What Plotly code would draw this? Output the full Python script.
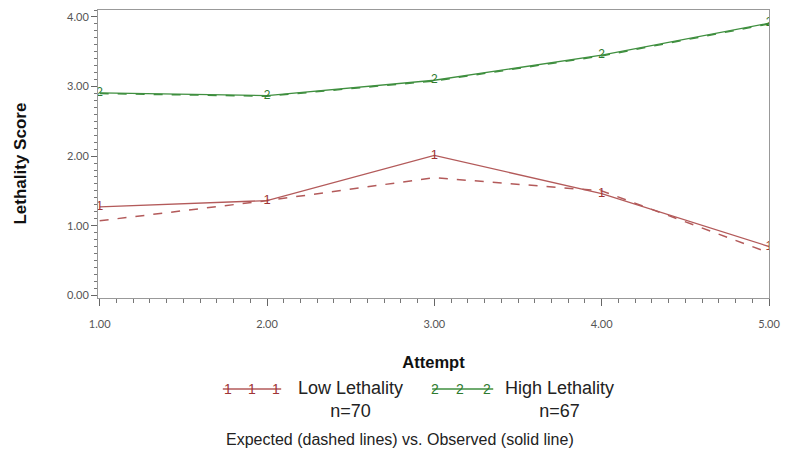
import plotly.graph_objects as go

attempts = [1, 2, 3, 4, 5]
low_observed = [1.27, 1.36, 2.01, 1.46, 0.70]
low_expected = [1.07, 1.36, 1.69, 1.50, 0.61]
high_observed = [2.91, 2.87, 3.09, 3.45, 3.91]
high_expected = [2.90, 2.86, 3.08, 3.44, 3.90]
xtick_vals = [1, 2, 3, 4, 5]
xtick_text = ["1.00", "2.00", "3.00", "4.00", "5.00"]
ytick_vals = [0, 1, 2, 3, 4]
ytick_text = ["0.00", "1.00", "2.00", "3.00", "4.00"]

RED = "#b35a5a"
RED_MARK = "#a03535"
GREEN = "#3f8f3f"
GREEN_MARK = "#2f7a2f"

fig = go.Figure()
fig.add_trace(go.Scatter(x=attempts, y=low_expected, mode="lines",
                         line=dict(color=RED, width=1.5, dash="dash"), showlegend=False))
fig.add_trace(go.Scatter(x=attempts, y=low_observed, mode="lines+text", text=["1"] * 5,
                         textposition="middle center",
                         textfont=dict(color=RED_MARK, size=13, family="Liberation Sans"),
                         line=dict(color=RED, width=1.3), showlegend=False))
fig.add_trace(go.Scatter(x=attempts, y=high_expected, mode="lines",
                         line=dict(color=GREEN, width=1.5, dash="dash"), showlegend=False))
fig.add_trace(go.Scatter(x=attempts, y=high_observed, mode="lines+text", text=["2"] * 5,
                         textposition="middle center",
                         textfont=dict(color=GREEN_MARK, size=12, family="Liberation Sans"),
                         line=dict(color=GREEN, width=1.3), showlegend=False))

LEG_Y = -0.316
LABEL_Y = -0.354

def legend_item(x0, x1, glyph_xs, color, mcolor, glyph, label, tx):
    fig.add_shape(type="line", xref="paper", yref="paper", x0=x0, x1=x1, y0=LEG_Y, y1=LEG_Y,
                  line=dict(color=color, width=1.3))
    for xx in glyph_xs:
        fig.add_annotation(xref="paper", yref="paper", x=xx, y=LEG_Y, text=glyph, showarrow=False,
                           xanchor="center", yanchor="middle",
                           font=dict(color=mcolor, size=14, family="Liberation Sans"))
    fig.add_annotation(xref="paper", yref="paper", x=tx, y=LABEL_Y, text=label, showarrow=False,
                       xanchor="center", yanchor="middle", align="center",
                       font=dict(color="#222", size=18, family="Liberation Sans"))

legend_item(0.186, 0.273, [0.194, 0.229, 0.265], RED, RED_MARK, "1", "Low Lethality<br>n=70", 0.377)
legend_item(0.498, 0.589, [0.502, 0.540, 0.580], GREEN, GREEN_MARK, "2", "High Lethality<br>n=67", 0.688)

fig.add_annotation(xref="paper", yref="paper", x=0.45, y=-0.493, xanchor="center", yanchor="middle",
                   text="Expected (dashed lines) vs. Observed (solid line)", showarrow=False,
                   font=dict(color="#222", size=16, family="Liberation Sans"))

fig.add_annotation(xref="paper", yref="paper", x=-0.1162, y=0.467, xanchor="center", yanchor="middle",
                   text="<b>Lethality Score</b>", textangle=-90, showarrow=False,
                   font=dict(color="#111", size=17, family="Liberation Sans"))

fig.update_layout(
    width=785, height=458,
    margin=dict(l=98, r=16, t=10, b=160),
    plot_bgcolor="white", paper_bgcolor="white",
    font=dict(family="Liberation Sans", color="#333"),
    xaxis=dict(range=[0.99, 5.0], tickvals=xtick_vals, ticktext=xtick_text, automargin=False,
               ticks="outside", ticklen=7, tickcolor="#666", ticklabelstandoff=9,
               ticklabeloverflow="allow",
               minor=dict(dtick=0.1, ticks="outside", ticklen=4, tickcolor="#777"),
               showline=True, linecolor="#999", mirror=True, showgrid=False, zeroline=False,
               tickfont=dict(family="Lato", size=11, color="#555"),
               title=dict(text="<b>Attempt</b>", font=dict(size=16.5, color="#111"), standoff=27)),
    yaxis=dict(range=[-0.04, 4.1], tickvals=ytick_vals, ticktext=ytick_text, automargin=False,
               ticks="outside", ticklen=6, tickcolor="#666",
               minor=dict(dtick=0.1, ticks="outside", ticklen=3, tickcolor="#777"),
               showline=True, linecolor="#999", mirror=True, showgrid=False, zeroline=False,
               tickfont=dict(family="Lato", size=11, color="#555")),
)

fig.write_html("out.html", config={"displayModeBar": False},
               post_script="document.body.style.margin='0';document.body.style.overflow='hidden';")
